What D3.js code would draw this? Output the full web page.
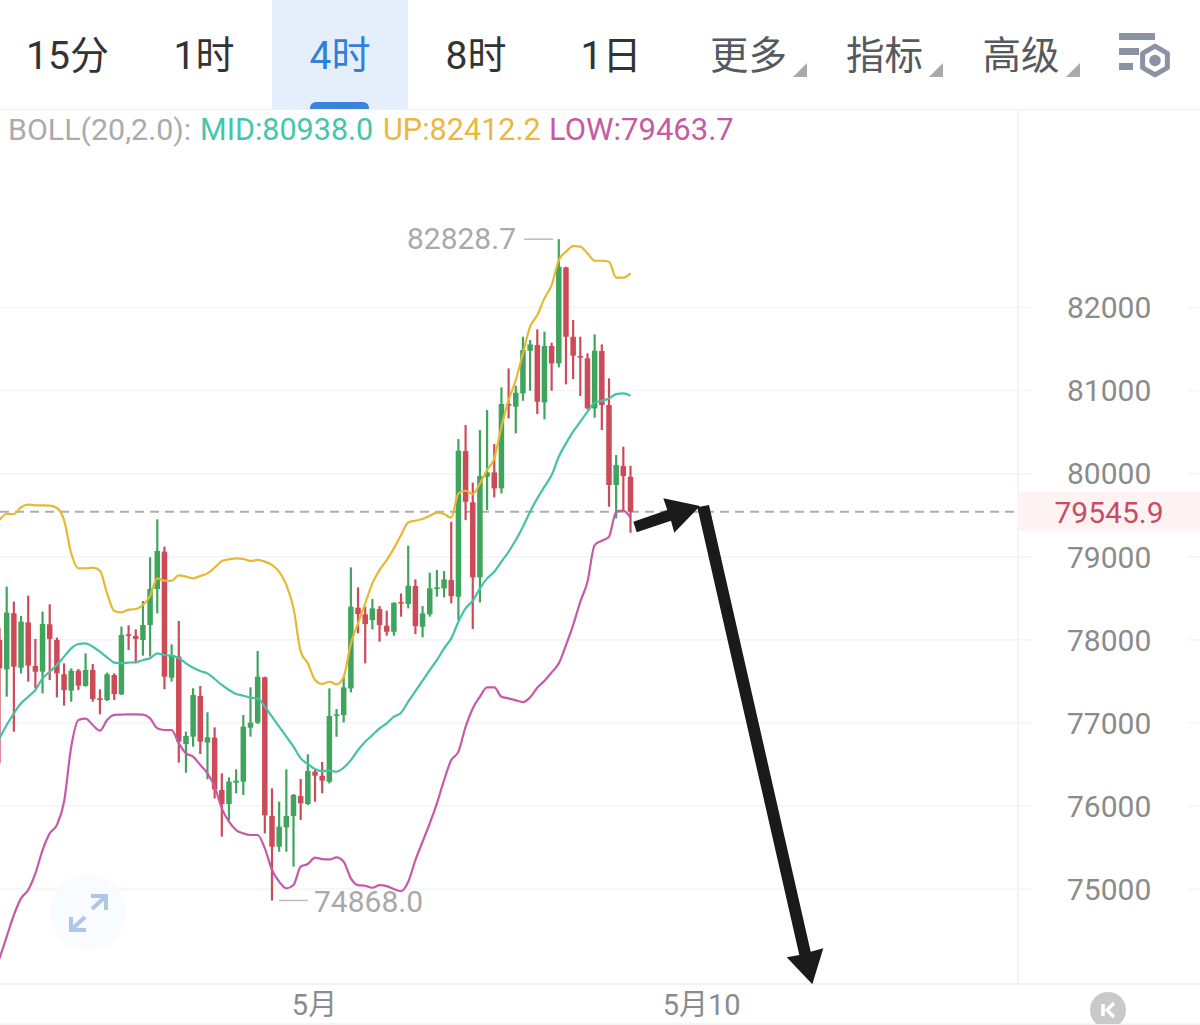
<!DOCTYPE html>
<html><head><meta charset="utf-8">
<script src="https://cdn.jsdelivr.net/npm/d3@7/dist/d3.min.js"></script>
<style>html,body{margin:0;padding:0;background:#fff}svg{display:block}text{font-family:Roboto,"Noto Sans CJK SC",sans-serif}</style>
</head><body><svg id="c" width="1200" height="1025"></svg>
<script>
const firstIndex = -1;
const opens = [78004,77650,78325,77670,78216,77691,77622,78192,78004,77590,77394,77634,77450,77642,77301,77281,77582,77349,78072,78052,78004,78184,78618,79067,77550,77803,76751,76840,77329,76768,76828,76198,76029,76286,76298,76948,77008,77554,75885,75515,75748,75885,76125,76029,76418,76370,76297,77092,77100,77421,78392,78312,78243,78376,78175,78103,78460,78436,78653,78163,78312,78617,78625,78725,78524,80278,79660,78757,79969,80021,79829,80844,80812,80972,81486,81554,80864,81542,81333,82489,81654,81422,81394,80792,81482,80832,79869,80097,79969];
const closes = [77662,78333,77682,78224,77695,77622,78196,78016,77602,77402,77634,77454,77642,77293,77281,77590,77353,78064,78056,78016,78184,78618,79075,77562,77823,76780,76848,77341,76780,76832,76206,76029,76298,76310,76960,77008,77562,75893,75515,75756,75885,76138,76037,76426,76370,76310,77088,77108,77433,78404,78316,78195,78384,78183,78103,78452,78444,78657,78171,78324,78625,78637,78733,78532,80282,79668,78757,79977,80021,79829,80844,80824,80980,81494,81562,80872,81542,81333,82497,81654,81426,81402,80792,81486,80832,79869,80109,79977,79545.9];
const highs = [78144,78646,78465,78292,78537,78016,78345,78433,78032,77723,77662,77654,77843,77715,77410,77610,77602,78164,78180,78132,78473,78999,79456,79127,77951,78232,76900,77422,77450,77133,76952,76398,76350,76447,77101,77434,77871,77562,76218,76057,76447,76150,76330,76627,76447,76535,77421,77172,77561,78877,78637,78404,78496,78412,78356,78456,78564,79138,78733,78412,78813,78845,78833,79427,80422,80591,79897,80531,80772,80362,81044,81273,81065,81654,81614,81743,81715,81582,82828.7,82497,81855,81654,81454,81683,81562,81153,80230,80330,80101];
const lows = [76519,77321,76900,77602,77502,77422,77361,77522,77313,77213,77261,77402,77442,77261,77109,77269,77281,77341,77883,77723,77815,77803,78325,77410,77502,76527,76406,76719,76631,76326,76097,75636,75837,76158,76138,76840,76992,75676,74868,75455,75455,75275,75837,76017,76057,76158,76277,76839,77011,77373,78083,77722,78131,77983,78055,78055,78284,78384,78075,78035,78284,78524,78516,78444,78243,79447,78135,78456,79568,79720,79768,80671,80491,80884,81004,80723,80659,81004,81285,81081,81145,80940,80780,80679,80531,79608,79467,79568,79295];
const upperBand = [79448,79520,79520,79601,79633,79625,79625,79621,79593,79448,79047,78866,78866,78874,78838,78565,78353,78337,78369,78377,78425,78533,78746,78718,78714,78782,78766,78746,78774,78806,78874,78955,78975,78987,78979,78955,78967,78947,78906,78826,78666,78385,77863,77723,77522,77474,77501,77469,77561,77962,78203,78444,78685,78845,78966,79106,79267,79419,79439,79459,79499,79536,79520,79475,79768,79800,79760,79889,80049,80190,80571,80892,81133,81454,81775,81915,82116,82276,82577,82678,82746,82738,82658,82569,82569,82557,82365,82365,82417];
const midBand = [76820,76980,77121,77241,77321,77402,77542,77622,77703,77803,77903,77955,77963,77923,77863,77795,77731,77723,77731,77735,77763,77783,77843,77823,77815,77783,77723,77670,77630,77602,77534,77462,77402,77353,77333,77309,77301,77201,77080,76960,76840,76719,76579,76511,76451,76426,76430,76418,76466,76558,76679,76779,76859,76939,77000,77080,77128,77261,77389,77513,77642,77762,77903,78023,78224,78384,78476,78625,78745,78826,78946,79066,79207,79367,79548,79708,79849,79989,80210,80370,80511,80631,80752,80860,80884,80912,80964,80972,80944];
const lowerBand = [74171,74432,74693,74893,74994,75194,75475,75676,75776,76057,76719,77040,77056,76980,76912,77040,77101,77105,77109,77109,77105,77060,76940,76920,76920,76760,76639,76599,76499,76398,76238,75977,75816,75716,75676,75656,75656,75495,75235,75094,75014,75054,75275,75307,75383,75366,75362,75386,75334,75134,75053,75045,75021,75053,75041,75005,74981,75093,75354,75575,75796,76037,76317,76558,76659,76959,77180,77321,77433,77433,77321,77301,77277,77256,77313,77429,77513,77614,77722,77943,78183,78464,78705,79146,79198,79247,79548,79560,79475];
const priceTicks = [82000,81000,80000,79000,78000,77000,76000,75000];
const dateTickIdx = [43,97];
const dateTickLabels = ["5月","5月10"];
const tabs = ["15分","1时","4时","8时","1日"];
const menus = ["更多","指标","高级"];
const lastPrice = 79545.9, maxPrice = "82828.7", minPrice = "74868.0";

const svg = d3.select("#c");
const idx = opens.map((_,i)=>i+firstIndex);
const x = d3.scaleLinear().domain([-1,87]).range([-0.47,630.5]);
const y = d3.scaleLinear().domain([75000,82000]).range([889.5,308]);
const GREEN="#3fa45c",RED="#cd4a59",GRID="#f3f4f5",LABEL="#8b8b8b";

// frame
const frame=svg.append("g").attr("stroke","#f2f2f2").attr("stroke-width",1.5);
frame.append("line").attr("x1",0).attr("x2",1200).attr("y1",109.5).attr("y2",109.5);
frame.append("line").attr("x1",1018).attr("x2",1018).attr("y1",110).attr("y2",984);
frame.append("line").attr("x1",0).attr("x2",1200).attr("y1",984).attr("y2",984).attr("stroke-width",2);
frame.append("line").attr("x1",0).attr("x2",1200).attr("y1",1024).attr("y2",1024);

// grid
svg.append("g").selectAll("line.a").data(priceTicks).join("line").attr("x1",0).attr("x2",1032)
  .attr("y1",d=>y(d)-0.5).attr("y2",d=>y(d)-0.5).attr("stroke",GRID).attr("stroke-width",1.5);
svg.append("g").selectAll("line.b").data(priceTicks).join("line").attr("x1",1188).attr("x2",1200)
  .attr("y1",d=>y(d)-0.5).attr("y2",d=>y(d)-0.5).attr("stroke",GRID).attr("stroke-width",1.5);

// y axis
const ya=svg.append("g").attr("transform","translate(1067,-1)")
  .call(d3.axisRight(y).tickValues(priceTicks).tickSize(0).tickPadding(0).tickFormat(d3.format("d")));
ya.select(".domain").remove();
ya.selectAll("text").attr("font-size",30).attr("fill",LABEL).style("font-family",'Roboto').attr("dy","0.36em");

// x axis
const xa=svg.append("g").attr("transform","translate(-1,984)")
  .call(d3.axisBottom(x).tickValues(dateTickIdx).tickSize(0).tickPadding(0).tickFormat((d,i)=>dateTickLabels[i]));
xa.select(".domain").remove();
xa.selectAll("text").attr("font-size",29).attr("fill",LABEL).style("font-family",'Roboto,"Noto Sans CJK SC"').attr("y",31).attr("dy",0);

// last price
svg.append("line").attr("x1",0).attr("x2",1014).attr("y1",y(lastPrice)).attr("y2",y(lastPrice))
  .attr("stroke","#aeaeae").attr("stroke-width",2).attr("stroke-dasharray","9 6");
svg.append("rect").attr("x",1019).attr("y",y(lastPrice)-20).attr("width",181).attr("height",39).attr("fill","#fdf3f3");
svg.append("text").attr("x",1109).attr("y",y(lastPrice)+11).attr("text-anchor","middle").attr("font-size",30)
  .attr("fill","#c74e62").text(lastPrice.toFixed(1));

// candles
const cg=svg.append("g");
cg.selectAll("line").data(idx).join("line")
  .attr("x1",d=>x(d)).attr("x2",d=>x(d))
  .attr("y1",d=>y(highs[d-firstIndex])).attr("y2",d=>y(lows[d-firstIndex]))
  .attr("stroke",d=>closes[d-firstIndex]>=opens[d-firstIndex]?GREEN:RED).attr("stroke-width",2.2);
cg.selectAll("rect").data(idx).join("rect")
  .attr("x",d=>x(d)-2.75).attr("width",5.5)
  .attr("y",d=>y(Math.max(opens[d-firstIndex],closes[d-firstIndex])))
  .attr("height",d=>Math.max(1.5,Math.abs(y(opens[d-firstIndex])-y(closes[d-firstIndex]))))
  .attr("fill",d=>closes[d-firstIndex]>=opens[d-firstIndex]?GREEN:RED);

// bands
const line=d3.line().x((d,i)=>x(i+firstIndex)).y(d=>y(d)).curve(d3.curveMonotoneX);
[[upperBand,"#e8b832"],[midBand,"#46c0a6"],[lowerBand,"#c659aa"]].forEach(([s,c])=>{
  svg.append("path").attr("d",line(s)).attr("fill","none").attr("stroke",c).attr("stroke-width",2.2);
});

// high / low annotations
svg.append("text").attr("x",516).attr("y",249).attr("text-anchor","end").attr("font-size",30).attr("fill","#a9a9a9").text(maxPrice);
svg.append("line").attr("x1",524).attr("x2",553).attr("y1",y(82828.7)).attr("y2",y(82828.7)).attr("stroke","#bbb").attr("stroke-width",1.5);
svg.append("text").attr("x",314).attr("y",912).attr("font-size",30).attr("fill","#a9a9a9").text(minPrice);
svg.append("line").attr("x1",279).attr("x2",308).attr("y1",y(74868)).attr("y2",y(74868)).attr("stroke","#bbb").attr("stroke-width",1.5);

// legend
[["BOLL(20,2.0):",8,"#ababab",30.4],["MID:80938.0",200,"#45c6a8",30.5],["UP:82412.2",383,"#ebb83e",30.6],["LOW:79463.7",549,"#c65aa6",31]].forEach(([t,px,c,s])=>{
  svg.append("text").attr("x",px).attr("y",140).attr("font-size",s).attr("fill",c).text(t);
});

// tabs
svg.append("rect").attr("x",272).attr("y",0).attr("width",136).attr("height",109).attr("fill","#e4effb");
svg.append("path").attr("d","M310 109V108a6 6 0 0 1 6-6H363a6 6 0 0 1 6 6V109Z").attr("fill","#3b82dc");
const tabCx=[67.5,204,340,476,611];
tabs.forEach((t,i)=>svg.append("text").attr("x",tabCx[i]).attr("y",69).attr("text-anchor","middle").attr("font-size",39)
  .attr("fill",i==2?"#2f7fdb":"#333").text(t));
const menuCx=[748.5,884.5,1021];
menus.forEach((t,i)=>{
  svg.append("text").attr("x",menuCx[i]).attr("y",69).attr("text-anchor","middle").attr("font-size",38.5).attr("fill","#555a5f").text(t);
  const tx=[807,943,1080][i];
  svg.append("path").attr("d",`M${tx} 63V77H${tx-14}Z`).attr("fill","#aaa");
});

// settings icon
const ic=svg.append("g").attr("fill","#8a92a3");
ic.append("rect").attr("x",1119).attr("y",33).attr("width",36).attr("height",7);
ic.append("rect").attr("x",1119).attr("y",48).attr("width",20).attr("height",7);
ic.append("rect").attr("x",1119).attr("y",63).attr("width",14).attr("height",7);
const hex=d3.range(6).map(k=>{const a=Math.PI/3*k-Math.PI/2;return [1155+14.3*Math.cos(a),60.5+14.3*Math.sin(a)]});
svg.append("polygon").attr("points",hex.map(p=>p.join(",")).join(" ")).attr("fill","#fff").attr("stroke","#8a92a3").attr("stroke-width",5).attr("stroke-linejoin","round");
svg.append("circle").attr("cx",1155).attr("cy",60.5).attr("r",5.8).attr("fill","#8a92a3");

// expand button
svg.append("circle").attr("cx",88).attr("cy",912).attr("r",38).attr("fill","#f8fbff");
svg.append("path").attr("d","M92 909L105 897M91 896H106V910M85 917L71 930M71 917V930H86").attr("fill","none").attr("stroke","#b0c6e6").attr("stroke-width",4);

// reset button
svg.append("circle").attr("cx",1108).attr("cy",1010).attr("r",18).attr("fill","#c9c9c9");
svg.append("path").attr("d","M1103 1004V1016").attr("stroke","#fff").attr("stroke-width",3.5);
svg.append("path").attr("d","M1114 1003L1107 1010L1114 1017").attr("stroke","#fff").attr("stroke-width",3.5).attr("fill","none");
svg.append("rect").attr("x",1000).attr("y",1024).attr("width",200).attr("height",1).attr("fill","#f0f0f0");

// hand-drawn arrows
svg.append("polygon").attr("points","633.3,521.7 667.3,510 663.3,498.3 700,506 674.3,532.7 671,520.7 636.7,532.3").attr("fill","#1a1a1a");
svg.append("polygon").attr("points","697.3,507.3 709,505 810.7,951.7 823.3,948.3 812.3,984.3 786.7,957.3 799.3,955").attr("fill","#1a1a1a");
</script></body></html>
